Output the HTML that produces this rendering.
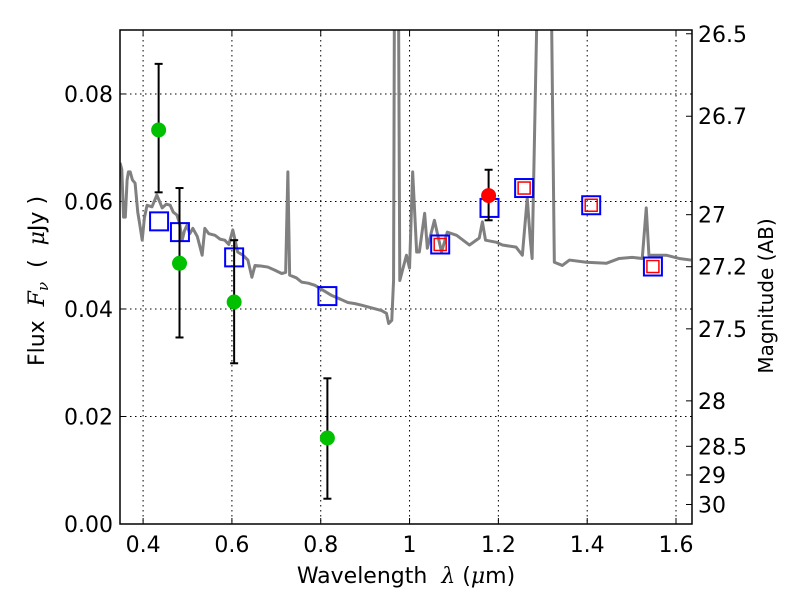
<!DOCTYPE html>
<html><head><meta charset="utf-8"><style>
body{margin:0;background:#fff}
svg{display:block;font-family:"DejaVu Sans","Liberation Sans",sans-serif}
</style></head><body>
<svg id="c" width="800" height="600"></svg>
<script>
const specLam=[0.348,0.352,0.356,0.360,0.364,0.367,0.371,0.376,0.382,0.388,0.392,0.398,0.403,0.409,0.420,0.431,0.437,0.443,0.452,0.461,0.468,0.476,0.482,0.488,0.493,0.499,0.505,0.512,0.522,0.533,0.539,0.548,0.562,0.573,0.584,0.593,0.602,0.613,0.625,0.636,0.645,0.652,0.665,0.681,0.697,0.712,0.721,0.726,0.730,0.745,0.757,0.772,0.787,0.805,0.825,0.845,0.861,0.877,0.892,0.915,0.937,0.948,0.953,0.960,0.964,0.966,0.975,0.978,0.993,1.000,1.007,1.016,1.022,1.034,1.040,1.056,1.072,1.085,1.106,1.135,1.157,1.164,1.171,1.196,1.209,1.240,1.254,1.265,1.272,1.276,1.288,1.319,1.326,1.344,1.360,1.398,1.443,1.472,1.501,1.524,1.533,1.539,1.578,1.607,1.634];
const specFlux=[0.0672,0.0660,0.0571,0.0571,0.0640,0.0655,0.0655,0.0640,0.0634,0.0580,0.0560,0.0528,0.0570,0.0593,0.0590,0.0612,0.0600,0.0588,0.0595,0.0593,0.0580,0.0575,0.0560,0.0528,0.0545,0.0556,0.0540,0.0550,0.0535,0.0500,0.0550,0.0540,0.0537,0.0530,0.0528,0.0520,0.0547,0.0506,0.0500,0.0491,0.0459,0.0481,0.0480,0.0478,0.0472,0.0466,0.0468,0.0655,0.0463,0.0458,0.0450,0.0448,0.0444,0.0435,0.0425,0.0418,0.0412,0.0410,0.0407,0.0402,0.0397,0.0392,0.0373,0.0379,0.0453,0.1,0.1,0.0453,0.0500,0.0476,0.0655,0.0506,0.0506,0.0578,0.0513,0.0565,0.0506,0.0543,0.0537,0.0519,0.0532,0.0562,0.0528,0.0524,0.0519,0.0515,0.0500,0.0606,0.0528,0.0494,0.1,0.1,0.0487,0.0481,0.0491,0.0487,0.0485,0.0494,0.0496,0.0494,0.0588,0.0500,0.0500,0.0494,0.0491];
const greenLam=[0.435,0.482,0.605,0.815];
const greenFlux=[0.0733,0.0485,0.0413,0.0160];
const greenHi=[0.0856,0.0625,0.0528,0.0271];
const greenLo=[0.0617,0.0347,0.0299,0.0047];
const redLam=[1.178];const redFlux=[0.0611];const redHi=[0.0659];const redLo=[0.0565];
const blueLam=[0.436,0.483,0.605,0.815,1.069,1.18,1.258,1.409,1.548];
const blueFlux=[0.0563,0.0543,0.0496,0.0424,0.0520,0.0588,0.0625,0.0593,0.0479];
const rsqLam=[1.069,1.258,1.409,1.548];
const rsqFlux=[0.0520,0.0625,0.0593,0.0479];
const xTicks=[0.4,0.6,0.8,1.0,1.2,1.4,1.6];
const xTickLabels=["0.4","0.6","0.8","1","1.2","1.4","1.6"];
const yTicks=[0,0.02,0.04,0.06,0.08];
const yTickLabels=["0.00","0.02","0.04","0.06","0.08"];
const magTicks=[26.5,26.7,27,27.2,27.5,28,28.5,29,30];

const L=120,R=692,T=30,B=524,xmin=0.348,xmax=1.636,ymax=0.0919;
const X=v=>L+(v-xmin)/(xmax-xmin)*(R-L);
const Y=v=>B-v/ymax*(B-T);
const magY=m=>Y(Math.pow(10,(23.9-m)/2.5));
const svg=document.getElementById('c');const NS='http://www.w3.org/2000/svg';
function mk(t,a,p){const e=document.createElementNS(NS,t);for(const k in a)e.setAttribute(k,a[k]);(p||svg).appendChild(e);return e;}
const defs=mk('defs',{});const cp=mk('clipPath',{id:'clip'},defs);mk('rect',{x:L,y:T,width:R-L,height:B-T},cp);
xTicks.forEach((v,i)=>{
 let g=mk('line',{x1:X(v),x2:X(v),y1:T,y2:B,stroke:'#000','stroke-dasharray':'1.5,3.5','stroke-width':1});
 
 mk('line',{x1:X(v),x2:X(v),y1:B,y2:B-6,stroke:'#000'});mk('line',{x1:X(v),x2:X(v),y1:T,y2:T+6,stroke:'#000'});
 let t=mk('text',{x:X(v),y:B+28,'font-size':22,'text-anchor':'middle'});t.textContent=xTickLabels[i];
 
});
yTicks.forEach((v,i)=>{
 if(v>0){let g=mk('line',{x1:L,x2:R,y1:Y(v),y2:Y(v),stroke:'#000','stroke-dasharray':'1.5,3.5','stroke-width':1});
 }
 mk('line',{x1:L,x2:L+6,y1:Y(v),y2:Y(v),stroke:'#000'});
 let t=mk('text',{x:L-7,y:Y(v)+8,'font-size':22,'text-anchor':'end'});t.textContent=yTickLabels[i];
 
});
magTicks.forEach(m=>{
 mk('line',{x1:R,x2:R-6,y1:magY(m),y2:magY(m),stroke:'#000'});
 let t=mk('text',{x:R+6,y:magY(m)+8,'font-size':22});t.textContent=String(m);
 
});
const g=mk('g',{'clip-path':'url(#clip)'});
const sp=mk('polyline',{points:specLam.map((l,i)=>X(l)+','+Y(specFlux[i])).join(' '),fill:'none',stroke:'#808080','stroke-width':3,'stroke-linejoin':'round'},g);

blueLam.forEach((l,i)=>{let r=mk('rect',{x:X(l)-9,y:Y(blueFlux[i])-9,width:18,height:18,fill:'none',stroke:'#0000ff','stroke-width':2},g);
 });
rsqLam.forEach((l,i)=>{let r=mk('rect',{x:X(l)-6,y:Y(rsqFlux[i])-6,width:12,height:12,fill:'none',stroke:'#ff0000','stroke-width':1.5},g);
 });
function pts(lam,fl,hi,lo,col,name){lam.forEach((l,i)=>{
 mk('line',{x1:X(l),x2:X(l),y1:Y(hi[i]),y2:Y(lo[i]),stroke:'#000','stroke-width':2},g);
 mk('line',{x1:X(l)-4,x2:X(l)+4,y1:Y(hi[i]),y2:Y(hi[i]),stroke:'#000','stroke-width':2},g);
 mk('line',{x1:X(l)-4,x2:X(l)+4,y1:Y(lo[i]),y2:Y(lo[i]),stroke:'#000','stroke-width':2},g);
 let c=mk('circle',{cx:X(l),cy:Y(fl[i]),r:7.5,fill:col},g);
 });}
pts(greenLam,greenFlux,greenHi,greenLo,'#00c000','observed-flux');
pts(redLam,redFlux,redHi,redLo,'#ff0000','detected-flux');
let fr=mk('rect',{x:L,y:T,width:R-L,height:B-T,fill:'none',stroke:'#000','stroke-width':1.5});

let xl=mk('text',{x:406,y:583,'font-size':22,'text-anchor':'middle',style:'white-space:pre'});
xl.innerHTML='Wavelength  <tspan font-family="DejaVu Serif,serif" font-style="italic">λ</tspan> (<tspan font-family="DejaVu Serif,serif" font-style="italic">μ</tspan>m)';

let yl=mk('text',{x:0,y:0,'font-size':22,'text-anchor':'middle',style:'white-space:pre',transform:'translate(44,281) rotate(-90)'});
yl.innerHTML='Flux  <tspan font-family="DejaVu Serif,serif" font-style="italic">F</tspan><tspan font-family="DejaVu Serif,serif" font-style="italic" font-size="15" dy="4">ν</tspan><tspan dy="-4">  (  </tspan><tspan font-family="DejaVu Serif,serif" font-style="italic">μ</tspan>Jy )';

let rl=mk('text',{x:0,y:0,'font-size':20,'text-anchor':'middle',transform:'translate(773,296) rotate(-90)'});
rl.textContent='Magnitude (AB)';

</script>
</body></html>
